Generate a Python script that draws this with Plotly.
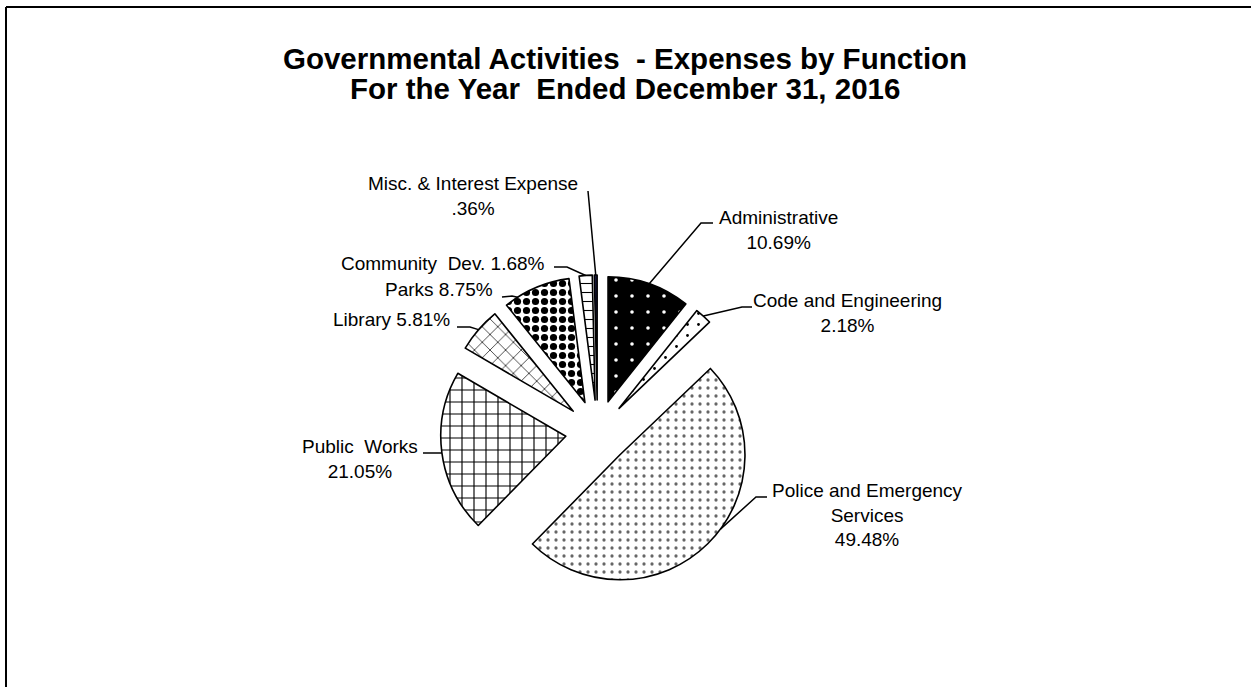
import math
import plotly.graph_objects as go

# ---------------- data ----------------
categories = ["Administrative", "Code and Engineering", "Police and Emergency Services",
              "Public Works", "Library", "Parks", "Community Dev.", "Misc. & Interest Expense"]
values = [10.69, 2.18, 49.48, 21.05, 5.81, 8.75, 1.68, 0.36]
label_names = ["Administrative<br>", "Code and Engineering<br>", "Police and Emergency<br>Services<br>",
               "Public\u00a0 Works<br>", "Library ", "Parks ", "Community\u00a0 Dev. ",
               "Misc. & Interest Expense<br>"]

# ---------------- layout constants ----------------
W, H = 1251, 687
CX, CY = 597.5, 432.0       # pie centre (px)
R = 125.0                   # slice radius (px)
PULL_PX = 32.0              # explode distance (px)
OUT = R + PULL_PX
pull = PULL_PX / R

def px(x):
    return x / W

def py(y):
    return 1 - y / H

FONT = "Liberation Sans, Arial, sans-serif"

shapes_ = [".", ".", ".", "+", "x", ".", "-", ""]
fgs = ["white", "black", "#666666", "black", "#222222", "black", "black", "black"]
bgs = ["black", "white", "white", "white", "white", "white", "white", "#1c1c4a"]
sizes = [16, 11, 8, 12, 11, 9, 9, 8]
solid = [0.04, 0.05, 0.13, 0.18, 0.14, 0.5, 0.12, 0.3]

fig = go.Figure()
fig.add_trace(go.Pie(
    labels=categories, values=values, sort=False, direction="clockwise", rotation=0,
    pull=[pull] * len(values), textinfo="none", hoverinfo="label+percent",
    showlegend=False,
    domain=dict(x=[px(CX - OUT), px(CX + OUT)], y=[py(CY + OUT), py(CY - OUT)]),
    marker=dict(colors=bgs, line=dict(color="black", width=1.6),
                pattern=dict(shape=shapes_, fgcolor=fgs, bgcolor=bgs, size=sizes,
                             solidity=solid, fillmode="replace")),
))

# slice geometry from data
total = sum(values)
starts = []
acc = 0.0
for v in values:
    starts.append(acc)
    acc += v

def attach(i, frac=0.5):
    a_mid = math.radians((starts[i] + values[i] / 2) / total * 360)
    a = math.radians((starts[i] + values[i] * frac) / total * 360)
    pcx = CX + PULL_PX * math.sin(a_mid)
    pcy = CY - PULL_PX * math.cos(a_mid)
    return pcx + R * math.sin(a), pcy - R * math.cos(a)

def pct(v):
    s = f"{v:.2f}%"
    if s.startswith("0."):
        s = s[1:]
    return s

# label placement (px): x, y, xanchor, leader points (label side first), attach fraction
placements = [
    (778, 230, "center", [(713, 223), (701, 223)], 0.5),
    (847, 313, "center", [(752, 307), (742, 307)], 0.5),
    (867, 515, "center", [(767, 497), (756, 497)], 0.45),
    (360, 459, "center", [(423, 453)], 0.5),
    (452, 319, "right", [(457, 327), (470, 327)], 0.5),
    (495, 290, "right", [(502, 297), (512, 296)], 0.2),
    (547, 263, "right", [(554, 267), (567, 267)], 0.5),
    (473, 196, "center", [(588, 191)], 0.5),
]

annotations = []
shapes = [
    dict(type="line", xref="paper", yref="paper", x0=px(6), y0=py(7), x1=1, y1=py(7),
         line=dict(color="black", width=2)),
    dict(type="line", xref="paper", yref="paper", x0=px(6), y0=py(7), x1=px(6), y1=0,
         line=dict(color="black", width=2)),
]
for i, (x, y, xa, pts, frac) in enumerate(placements):
    annotations.append(dict(
        x=px(x), y=py(y), xref="paper", yref="paper", xanchor=xa, yanchor="middle",
        text=label_names[i] + pct(values[i]), showarrow=False, align="center",
        font=dict(family=FONT, size=19, color="black")))
    ax_, ay_ = attach(i, frac)
    all_pts = pts + [(ax_, ay_)]
    path = "M " + " L ".join(f"{px(a)},{py(b)}" for a, b in all_pts)
    shapes.append(dict(type="path", xref="paper", yref="paper", path=path,
                       line=dict(color="black", width=1.5)))

title_lines = ["Governmental Activities\u00a0 - Expenses by Function",
               "For the Year\u00a0 Ended December 31, 2016"]
for t, yy in zip(title_lines, [58, 88]):
    annotations.append(dict(
        x=px(625), y=py(yy), xref="paper", yref="paper", xanchor="center", yanchor="middle",
        text="<b>" + t + "</b>", showarrow=False,
        font=dict(family=FONT, size=29.5, color="black")))

fig.update_layout(
    width=W, height=H, margin=dict(l=0, r=0, t=0, b=0),
    paper_bgcolor="white", plot_bgcolor="white",
    annotations=annotations, shapes=shapes,
)

fig.write_html(
    "out.html",
    post_script="document.documentElement.style.overflow='hidden';"
                "document.body.style.overflow='hidden';document.body.style.margin='0';",
)
